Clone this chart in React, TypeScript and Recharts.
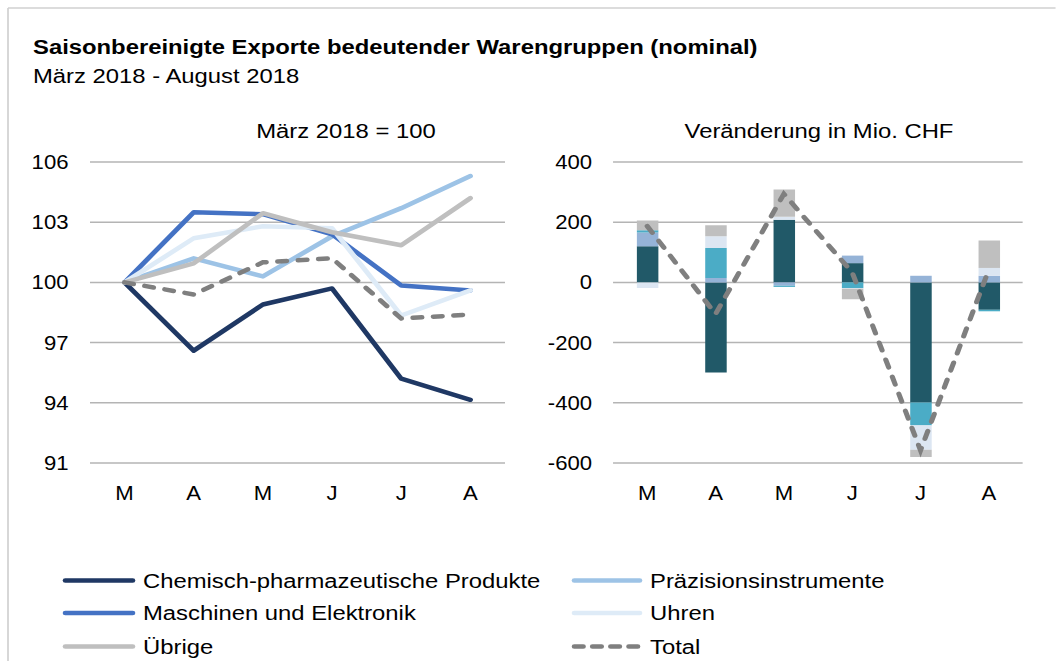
import React from 'react';
import { LineChart, Line, XAxis, YAxis, CartesianGrid, ComposedChart, Bar } from 'recharts';

const S = 1.135;
const ix = (x: number) => x / S;
const FONT = '"Liberation Sans", Arial, sans-serif';

const months = ['M', 'A', 'M', 'J', 'J', 'A'];
const seriesNames = [
  'Chemisch-pharmazeutische Produkte',
  'Präzisionsinstrumente',
  'Maschinen und Elektronik',
  'Uhren',
  'Übrige',
  'Total',
];

// Index, März 2018 = 100
const chemIdx = [100, 96.6, 98.9, 99.7, 95.2, 94.15];
const praezIdx = [100, 101.2, 100.3, 102.3, 103.7, 105.3];
const maschIdx = [100, 103.5, 103.4, 102.4, 99.85, 99.6];
const uhrenIdx = [100, 102.2, 102.8, 102.7, 98.35, 99.6];
const uebrIdx = [100, 100.95, 103.45, 102.5, 101.85, 104.2];
const totalIdx = [100, 99.4, 101.0, 101.2, 98.2, 98.4];

// Veränderung in Mio. CHF
const chemChg = [120, -299, 208, 64, -399, -91];
const praezChg = [46, 15, -11, 25, 22, 22];
const maschChg = [7, 99, -4, -19, -76, -5];
const uhrenChg = [-19, 39, 10, -2, -81, 26];
const uebrChg = [33, 37, 91, -35, -24, 91];
const totalChg = [187, -105, 294, 33, -558, 43];

const leftTicks = [91, 94, 97, 100, 103, 106];
const rightTicks = [-600, -400, -200, 0, 200, 400];

const title = 'Saisonbereinigte Exporte bedeutender Warengruppen (nominal)';
const subtitle = 'März 2018 - August 2018';
const leftHeader = 'März 2018 = 100';
const rightHeader = 'Veränderung in Mio. CHF';

const lineColors = ['#1F3864', '#9DC3E6', '#4472C4', '#DEEBF7', '#BFBFBF', '#7F7F7F'];
const barColors = ['#215968', '#95B3D7', '#4BACC6', '#DCE6F2', '#BFBFBF'];
const keys = ['chem', 'praez', 'masch', 'uhren', 'uebr'];

const indexData = months.map((m, i) => ({
  i,
  chem: chemIdx[i],
  praez: praezIdx[i],
  masch: maschIdx[i],
  uhren: uhrenIdx[i],
  uebr: uebrIdx[i],
  total: totalIdx[i],
}));

const changeData = months.map((m, i) => ({
  i,
  chem: chemChg[i],
  praez: praezChg[i],
  masch: maschChg[i],
  uhren: uhrenChg[i],
  uebr: uebrChg[i],
  total: totalChg[i],
}));

const tickStyle = { fill: '#000', fontSize: 19.5, fontFamily: FONT };
const GRID = '#B4B4B4';
const LW = 4.5;

const W = 1056 / S;

function LeftChart() {
  const left = 0;
  const yW = ix(90) - left;
  const width = ix(505) - left;
  return (
    <div style={{ position: 'absolute', left, top: 152 }}>
      <LineChart width={width} height={351} data={indexData} margin={{ top: 10, right: 0, bottom: 0, left: 0 }}>
        <CartesianGrid vertical={false} stroke={GRID} strokeWidth={1.5} />
        <XAxis
          dataKey="i"
          scale="band"
          type="category"
          height={40}
          axisLine={false}
          tickLine={false}
          tickSize={0}
          tickMargin={23}
          tick={tickStyle}
          tickFormatter={(v: number) => months[v]}
        />
        <YAxis
          domain={[91, 106]}
          ticks={leftTicks}
          width={yW}
          axisLine={false}
          tickLine={false}
          tickSize={0}
          tickMargin={ix(90) - ix(68.5)}
          tick={tickStyle}
          interval={0}
        />
        {keys.map((k, j) => (
          <Line
            key={k}
            dataKey={k}
            stroke={lineColors[j]}
            strokeWidth={LW}
            dot={false}
            activeDot={false}
            strokeLinecap="round"
            strokeLinejoin="round"
            isAnimationActive={false}
          />
        ))}
        <Line
          dataKey="total"
          stroke={lineColors[5]}
          strokeWidth={LW}
          strokeDasharray="8 10"
          strokeLinecap="round"
          dot={false}
          activeDot={false}
          isAnimationActive={false}
        />
      </LineChart>
    </div>
  );
}

function RightChart() {
  const left = ix(530);
  const yW = ix(613) - left;
  const width = ix(1023) - left;
  return (
    <div style={{ position: 'absolute', left, top: 152 }}>
      <ComposedChart
        width={width}
        height={351}
        data={changeData}
        stackOffset="sign"
        barSize={ix(21.5)}
        margin={{ top: 10, right: 0, bottom: 0, left: 0 }}
      >
        <CartesianGrid vertical={false} stroke={GRID} strokeWidth={1.5} />
        <XAxis
          dataKey="i"
          type="category"
          height={40}
          axisLine={false}
          tickLine={false}
          tickSize={0}
          tickMargin={23}
          tick={tickStyle}
          tickFormatter={(v: number) => months[v]}
        />
        <YAxis
          domain={[-600, 400]}
          ticks={rightTicks}
          width={yW}
          axisLine={false}
          tickLine={false}
          tickSize={0}
          tickMargin={ix(613) - ix(592)}
          tick={tickStyle}
          interval={0}
        />
        {keys.map((k, j) => (
          <Bar key={k} dataKey={k} stackId="s" fill={barColors[j]} isAnimationActive={false} />
        ))}
        <Line
          dataKey="total"
          stroke={lineColors[5]}
          strokeWidth={LW}
          strokeDasharray="8 10"
          strokeLinecap="round"
          dot={false}
          activeDot={false}
          isAnimationActive={false}
        />
      </ComposedChart>
    </div>
  );
}

function Overlay() {
  const leftItems = [0, 2, 4];
  const rightItems = [1, 3, 5];
  const rows = [580.5, 613, 646.5];
  const item = (s: number, row: number, x0: number, x1: number, tx: number) => (
    <g key={s}>
      <line
        x1={ix(x0 + 2.25)}
        x2={ix(x1 - 2.25)}
        y1={rows[row]}
        y2={rows[row]}
        stroke={lineColors[s]}
        strokeWidth={LW}
        strokeLinecap="round"
        strokeDasharray={s === 5 ? '8 8' : undefined}
      />
      <text x={ix(tx)} y={rows[row] + 7.5} fontSize={21} fontFamily={FONT} fill="#000">
        {seriesNames[s]}
      </text>
    </g>
  );
  return (
    <svg width={W} height={661} style={{ position: 'absolute', left: 0, top: 0 }}>
      <line x1={ix(8)} x2={ix(8)} y1={8} y2={661} stroke="#D0D0D0" strokeWidth={1.5} />
      <line x1={ix(8)} x2={W} y1={8} y2={8} stroke="#D0D0D0" strokeWidth={1.5} />
      <text x={ix(33)} y={54.5} fontSize={21} fontWeight="bold" fontFamily={FONT} fill="#000">
        {title}
      </text>
      <text x={ix(33)} y={83} fontSize={21} fontFamily={FONT} fill="#000">
        {subtitle}
      </text>
      <text x={ix(346)} y={138} fontSize={21} textAnchor="middle" fontFamily={FONT} fill="#000">
        {leftHeader}
      </text>
      <text x={ix(819)} y={138} fontSize={21} textAnchor="middle" fontFamily={FONT} fill="#000">
        {rightHeader}
      </text>
      {leftItems.map((s, r) => item(s, r, 63, 135, 143))}
      {rightItems.map((s, r) => item(s, r, 572, 642, 650))}
    </svg>
  );
}

export default function App() {
  return (
    <div
      style={{
        position: 'absolute',
        left: 0,
        top: 0,
        width: W,
        height: 661,
        transform: `scaleX(${S})`,
        transformOrigin: '0 0',
        background: '#fff',
        fontFamily: FONT,
      }}
    >
      <LeftChart />
      <RightChart />
      <Overlay />
    </div>
  );
}
